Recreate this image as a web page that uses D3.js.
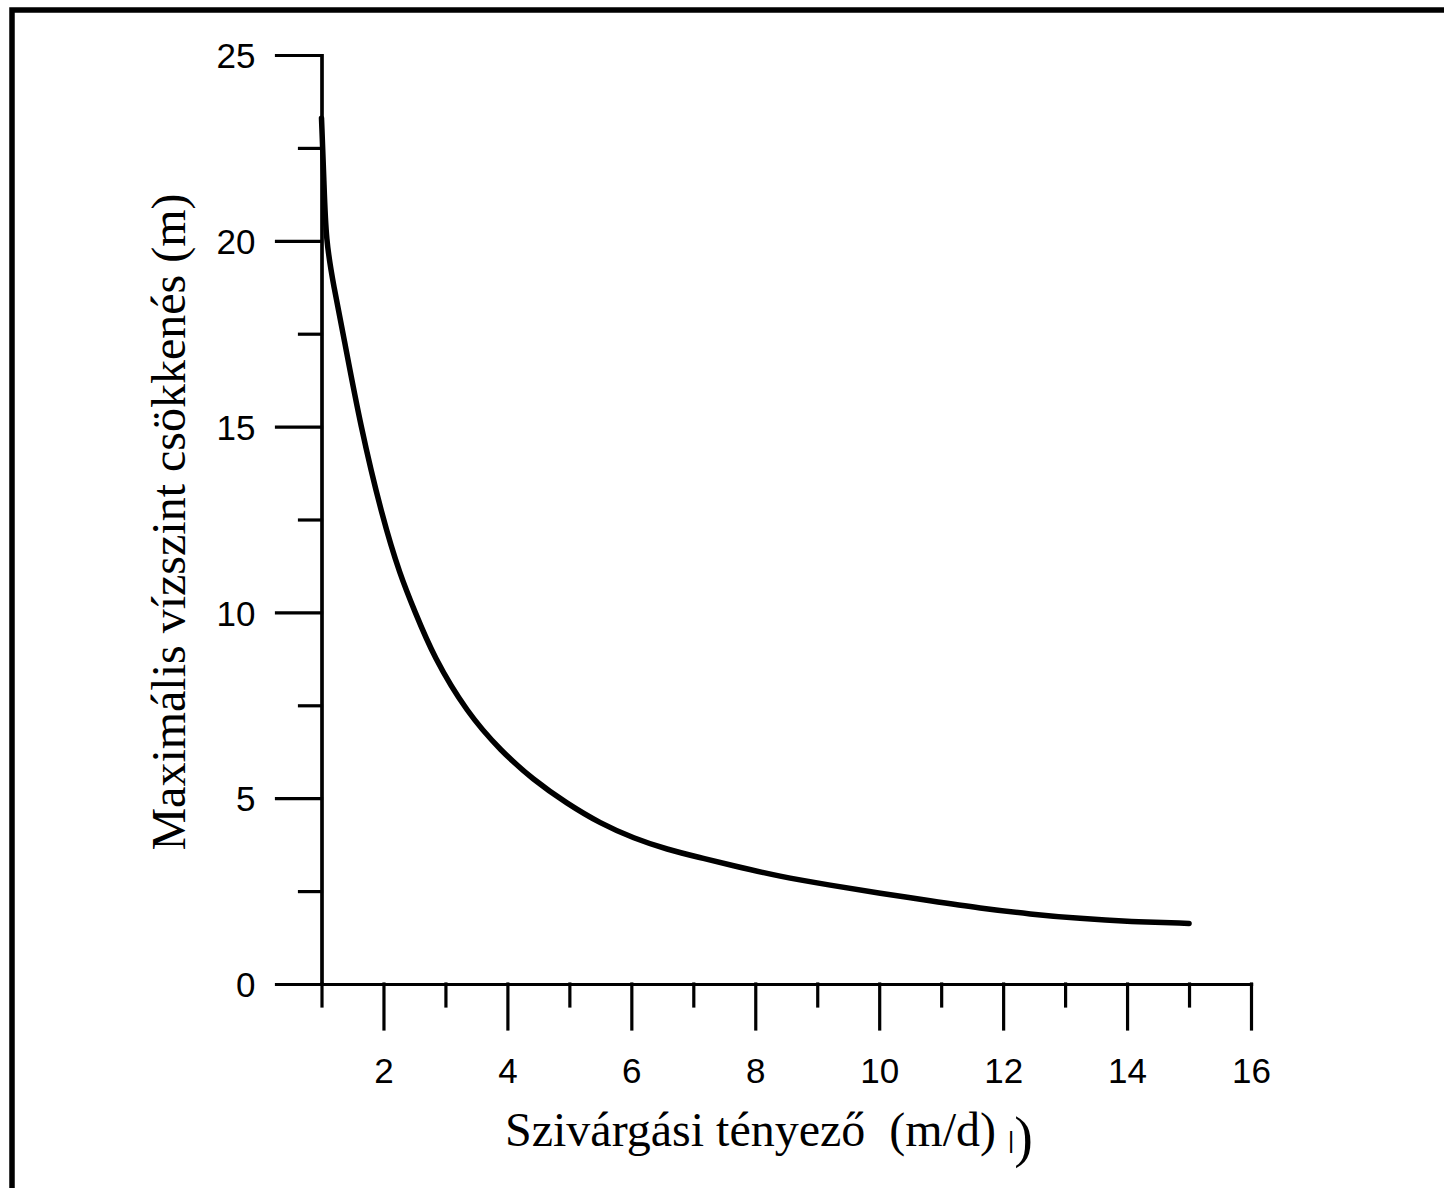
<!DOCTYPE html>
<html>
<head>
<meta charset="utf-8">
<script src="https://cdn.jsdelivr.net/npm/d3@7"></script>
<style>
  html, body { margin: 0; padding: 0; background: #fff; }
</style>
</head>
<body>
<div id="chart"></div>
<script>
// values
var kValues = [1.00, 1.04, 1.07, 1.20, 1.35, 1.63, 1.99, 2.27, 2.50, 2.81, 3.35, 3.89, 4.42, 4.96, 5.50, 6.04, 6.58, 7.11, 7.60, 8.40, 9.21, 10.02, 10.82, 11.63, 12.44, 13.24, 14.05, 15.00];
var drawdown = [23.3, 21.6, 20.0, 18.75, 17.5, 15.0, 12.5, 11.0, 10.05, 8.8, 7.3, 6.28, 5.49, 4.86, 4.32, 3.92, 3.62, 3.40, 3.20, 2.89, 2.66, 2.44, 2.24, 2.04, 1.88, 1.76, 1.68, 1.63];

var xMajor = [2, 4, 6, 8, 10, 12, 14, 16];
var xMinor = [1, 3, 5, 7, 9, 11, 13, 15];
var yMajor = [0, 5, 10, 15, 20, 25];
var yMinor = [2.5, 7.5, 12.5, 17.5, 22.5];

var xTitle = "Szivárgási tényező  (m/d) ";
var yTitle = "Maximális vízszint csökkenés (m)";

var W = 1444, H = 1188;
var svg = d3.select("#chart").append("svg")
    .attr("width", W).attr("height", H)
    .style("display", "block");

svg.append("rect").attr("width", W).attr("height", H).attr("fill", "#fff");

// frame (only top and left edges visible)
svg.append("rect")
    .attr("x", 12).attr("y", 10)
    .attr("width", 1600).attr("height", 1400)
    .attr("fill", "none")
    .attr("stroke", "#000")
    .attr("stroke-width", 5.5);

var x = d3.scaleLinear().domain([1, 16]).range([321.5, 1251]);
var y = d3.scaleLinear().domain([0, 25]).range([984, 55]);

var sansFont = "'Liberation Sans', Arial, Helvetica, sans-serif";
var serifFont = "'Liberation Serif', 'Times New Roman', serif";

// y axis
var gyMinor = svg.append("g").attr("transform", "translate(" + x(1) + ",0)")
    .call(d3.axisLeft(y).tickValues(yMinor).tickSize(22).tickSizeOuter(0).tickFormat(""));
var gy = svg.append("g").attr("transform", "translate(" + x(1) + ",0)")
    .call(d3.axisLeft(y).tickValues(yMajor).tickSize(45).tickSizeOuter(0).tickPadding(21));

// x axis
var gxMinor = svg.append("g").attr("transform", "translate(0," + y(0) + ")")
    .call(d3.axisBottom(x).tickValues(xMinor).tickSize(22).tickSizeOuter(0).tickFormat(""));
var gx = svg.append("g").attr("transform", "translate(0," + y(0) + ")")
    .call(d3.axisBottom(x).tickValues(xMajor).tickSize(45).tickSizeOuter(0));

svg.selectAll(".domain, .tick line")
    .attr("stroke", "#000")
    .attr("stroke-width", 3.2)
    .attr("stroke-linecap", "square");

gy.selectAll("text")
    .style("font-family", sansFont)
    .style("font-size", "35px")
    .attr("fill", "#000")
    .attr("dy", "0.36em");

gx.selectAll("text")
    .style("font-family", sansFont)
    .style("font-size", "35px")
    .attr("fill", "#000")
    .attr("y", 99)
    .attr("dy", 0);

// curve
var pts = kValues.map(function (k, i) { return [k, drawdown[i]]; });
var line = d3.line()
    .x(function (d) { return x(d[0]); })
    .y(function (d) { return y(d[1]); })
    .curve(d3.curveBasis);

svg.append("path")
    .datum(pts)
    .attr("d", line)
    .attr("fill", "none")
    .attr("stroke", "#000")
    .attr("stroke-width", 5.5)
    .attr("stroke-linecap", "round")
    .attr("stroke-linejoin", "round");

// axis titles
var xt = svg.append("text")
    .attr("x", 505).attr("y", 1146)
    .style("font-family", serifFont)
    .style("font-size", "48px")
    .style("white-space", "pre")
    .attr("fill", "#000");
xt.append("tspan").text(xTitle);
xt.append("tspan").style("font-family", sansFont).style("font-size", "24px").attr("dy", 2).text("|");
xt.append("tspan").style("font-size", "56px").attr("dy", 8).text(")");

svg.append("text")
    .attr("transform", "translate(185,522) rotate(-90)")
    .attr("text-anchor", "middle")
    .style("font-family", serifFont)
    .style("font-size", "48px")
    .attr("fill", "#000")
    .text(yTitle);
</script>
</body>
</html>
